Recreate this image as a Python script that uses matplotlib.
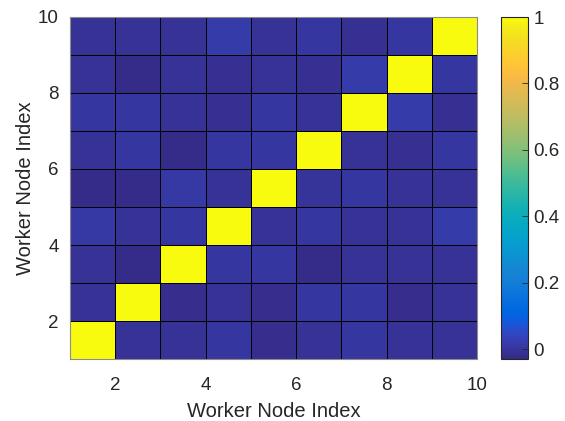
import numpy as np
import matplotlib
matplotlib.use("Agg")
import matplotlib.pyplot as plt
from matplotlib.colors import LinearSegmentedColormap

# parula anchor colours (MATLAB default colormap)
parula_data = [
    [0.2081, 0.1663, 0.5292], [0.2116, 0.1898, 0.5777], [0.2123, 0.2138, 0.6270], [0.2081, 0.2386, 0.6771],
    [0.1959, 0.2645, 0.7279], [0.1707, 0.2919, 0.7792], [0.1253, 0.3242, 0.8303], [0.0591, 0.3598, 0.8683],
    [0.0117, 0.3875, 0.8820], [0.0060, 0.4086, 0.8828], [0.0165, 0.4266, 0.8786], [0.0329, 0.4430, 0.8720],
    [0.0498, 0.4586, 0.8641], [0.0629, 0.4737, 0.8554], [0.0723, 0.4887, 0.8467], [0.0779, 0.5040, 0.8384],
    [0.0793, 0.5200, 0.8312], [0.0749, 0.5375, 0.8263], [0.0641, 0.5570, 0.8240], [0.0488, 0.5772, 0.8228],
    [0.0343, 0.5966, 0.8199], [0.0265, 0.6137, 0.8135], [0.0239, 0.6287, 0.8038], [0.0231, 0.6418, 0.7913],
    [0.0228, 0.6535, 0.7768], [0.0267, 0.6642, 0.7607], [0.0384, 0.6743, 0.7436], [0.0590, 0.6838, 0.7254],
    [0.0843, 0.6928, 0.7062], [0.1133, 0.7015, 0.6859], [0.1453, 0.7098, 0.6646], [0.1801, 0.7177, 0.6424],
    [0.2178, 0.7250, 0.6193], [0.2586, 0.7317, 0.5954], [0.3022, 0.7376, 0.5712], [0.3482, 0.7424, 0.5473],
    [0.3953, 0.7459, 0.5244], [0.4420, 0.7481, 0.5033], [0.4871, 0.7491, 0.4840], [0.5300, 0.7491, 0.4661],
    [0.5709, 0.7485, 0.4494], [0.6099, 0.7473, 0.4337], [0.6473, 0.7456, 0.4188], [0.6834, 0.7435, 0.4044],
    [0.7184, 0.7411, 0.3905], [0.7525, 0.7384, 0.3768], [0.7858, 0.7356, 0.3633], [0.8185, 0.7327, 0.3498],
    [0.8507, 0.7299, 0.3360], [0.8824, 0.7274, 0.3217], [0.9139, 0.7258, 0.3063], [0.9450, 0.7261, 0.2886],
    [0.9739, 0.7314, 0.2666], [0.9938, 0.7455, 0.2403], [0.9990, 0.7653, 0.2164], [0.9955, 0.7861, 0.1967],
    [0.9880, 0.8066, 0.1794], [0.9789, 0.8271, 0.1633], [0.9697, 0.8481, 0.1475], [0.9626, 0.8705, 0.1309],
    [0.9589, 0.8949, 0.1132], [0.9598, 0.9218, 0.0948], [0.9661, 0.9514, 0.0755], [0.9763, 0.9831, 0.0538],
]
parula = LinearSegmentedColormap.from_list("parula", parula_data, N=256)

# node indices (cell edges) and correlation values (rows = y index 1..9, cols = x index 1..9)
node_edges = np.arange(1, 11)
row1 = [1.000, -0.008, -0.008, 0.003, -0.020, -0.008, 0.003, -0.008, -0.008]
row2 = [-0.008, 1.000, -0.020, -0.008, -0.020, 0.003, 0.003, -0.020, -0.008]
row3 = [-0.008, -0.025, 1.000, 0.003, 0.003, -0.025, -0.008, -0.008, -0.008]
row4 = [0.008, -0.008, 0.003, 1.000, -0.008, 0.003, -0.008, -0.008, 0.018]
row5 = [-0.025, -0.025, 0.008, -0.008, 1.000, -0.003, 0.003, -0.008, -0.008]
row6 = [-0.008, 0.003, -0.025, 0.003, 0.003, 1.000, -0.008, -0.012, 0.003]
row7 = [0.003, 0.003, -0.008, -0.012, 0.003, -0.008, 1.000, 0.015, -0.012]
row8 = [-0.008, -0.025, -0.008, -0.012, -0.008, -0.012, 0.015, 1.000, 0.003]
row9 = [-0.008, -0.008, -0.008, 0.018, -0.008, 0.003, -0.012, 0.003, 1.000]
corr = np.array([row1, row2, row3, row4, row5, row6, row7, row8, row9])

x_ticks = [2, 4, 6, 8, 10]
y_ticks = [2, 4, 6, 8, 10]
cbar_ticks = [0, 0.2, 0.4, 0.6, 0.8, 1]
cbar_labels = ["0", "0.2", "0.4", "0.6", "0.8", "1"]

plt.rcParams['font.family'] = ['Liberation Sans', 'DejaVu Sans']

W, H = 565, 421
fig = plt.figure(figsize=(W / 100, H / 100), dpi=100)
ax = fig.add_axes([70 / W, (H - 359) / H, (477 - 70) / W, (359 - 17) / H])
cax = fig.add_axes([501 / W, (H - 359) / H, (528 - 501) / W, (359 - 17) / H])

mesh = ax.pcolormesh(node_edges, node_edges, corr, cmap=parula, vmin=-0.03, vmax=1.0,
                     edgecolors='black', linewidth=0.5, shading='flat')
ax.set_xlim(1, 10)
ax.set_ylim(1, 10)
ax.set_xticks(x_ticks)
ax.set_yticks(y_ticks)
ax.tick_params(direction='in', length=0, labelsize=13.5, colors='#262626')
ax.tick_params(axis='x', pad=13)
ax.tick_params(axis='y', pad=8)
for s in ax.spines.values():
    s.set_color('#8c8c8c')
    s.set_linewidth(0.8)
ax.set_xlabel("Worker Node Index", fontsize=14.5, color='#262626', labelpad=6)
ax.set_ylabel("Worker Node Index", fontsize=14.5, color='#262626', labelpad=2)

cb = fig.colorbar(mesh, cax=cax)
cb.set_ticks(cbar_ticks)
cb.set_ticklabels(cbar_labels)
cax.tick_params(direction='in', length=4, labelsize=13.5, colors='#262626', width=0.6, pad=4)
cb.outline.set_edgecolor('#262626')
cb.outline.set_linewidth(0.8)

fig.savefig("out.png", dpi=100)
